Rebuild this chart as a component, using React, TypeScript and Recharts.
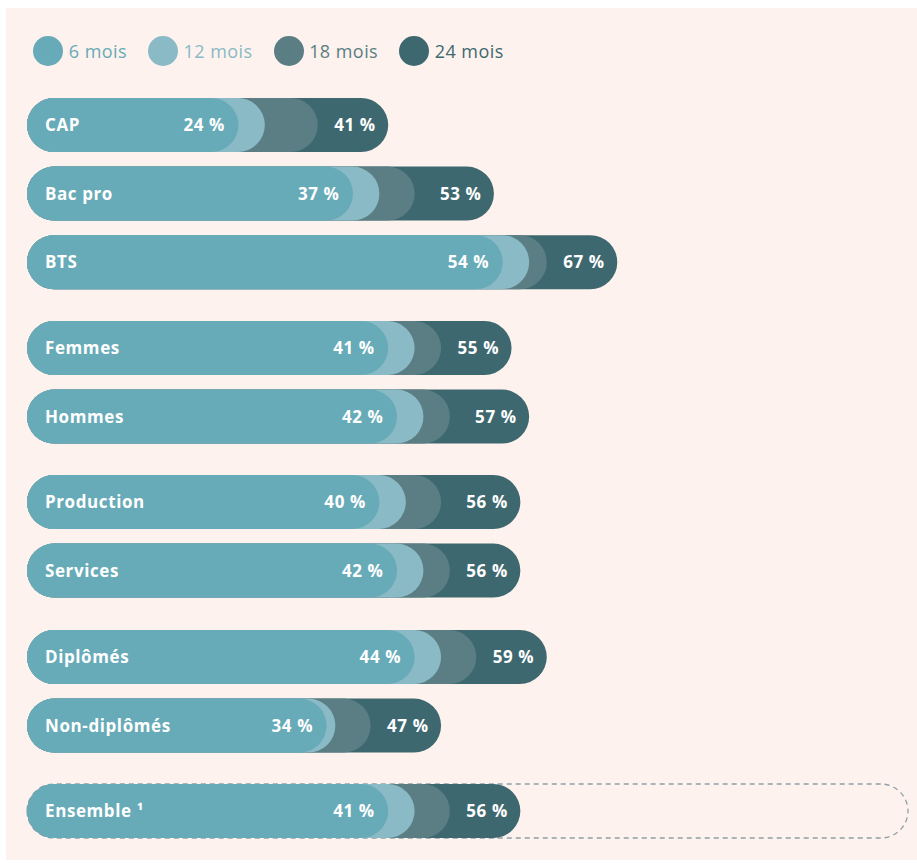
import React from 'react';
import { BarChart, Bar, XAxis, YAxis, LabelList } from 'recharts';

const categories = ['CAP', 'Bac pro', 'BTS', 'Femmes', 'Hommes', 'Production', 'Services', 'Diplômés', 'Non-diplômés', 'Ensemble ¹'];
const groupSizes = [3, 2, 2, 2, 1];
const mois6 = [24, 37, 54, 41, 42, 40, 42, 44, 34, 41];
const mois12 = [27, 40, 57, 44, 45, 43, 45, 47, 35, 44];
const mois18 = [33, 44, 59, 47, 48, 47, 48, 51, 39, 48];
const mois24 = [41, 53, 67, 55, 57, 56, 56, 59, 47, 56];
const ensembleTotal = 100;

const seriesNames = ['6 mois', '12 mois', '18 mois', '24 mois'];
const seriesKeys = ['m6', 'm12', 'm18', 'm24'];
const seriesColors = ['#67abb8', '#89bac5', '#5a7e84', '#3e6870'];

const FONT = '"Open Sans", sans-serif';
const BG = '#fdf2ed';
const BAND = 68.6;

const rows = categories.map((name, i) => ({
  name,
  m6: mois6[i],
  m12: mois12[i],
  m18: mois18[i],
  m24: mois24[i],
  total: i === categories.length - 1 ? ensembleTotal : undefined,
}));

const groups: typeof rows[] = [];
{
  let start = 0;
  for (const n of groupSizes) {
    groups.push(rows.slice(start, start + n));
    start += n;
  }
}

const pct = (v: any) => `${v} %`;

function GroupChart({ data }: { data: typeof rows }) {
  const hasTotal = data.some((d) => d.total !== undefined);
  const labelStyle = { fill: '#ffffff', fontWeight: 700, fontSize: 17, fontFamily: FONT, letterSpacing: '0.6px' };
  return (
    <BarChart
      layout="vertical"
      width={911}
      height={data.length * BAND}
      data={data}
      margin={{ top: 0, right: 9, bottom: 0, left: 21 }}
      barSize={54}
      barGap={-54}
      barCategoryGap={0}
    >
      <XAxis type="number" domain={[0, 100]} hide />
      <YAxis type="category" dataKey="name" hide width={0} />
      {hasTotal && (
        <Bar
          dataKey="total"
          fill="none"
          stroke="#8da0a5"
          strokeWidth={1.3}
          strokeDasharray="5 4"
          radius={27}
          isAnimationActive={false}
        />
      )}
      <Bar dataKey="m24" fill={seriesColors[3]} radius={27} isAnimationActive={false}>
        <LabelList dataKey="m24" position="insideRight" offset={12.5} formatter={pct} style={labelStyle} />
      </Bar>
      <Bar dataKey="m18" fill={seriesColors[2]} radius={27} isAnimationActive={false} />
      <Bar dataKey="m12" fill={seriesColors[1]} radius={27} isAnimationActive={false} />
      <Bar dataKey="m6" fill={seriesColors[0]} radius={27} isAnimationActive={false}>
        <LabelList dataKey="m6" position="insideRight" offset={13.5} formatter={pct} style={labelStyle} />
        <LabelList dataKey="name" position="insideLeft" offset={18} style={labelStyle} />
      </Bar>
    </BarChart>
  );
}

export default function App() {
  return (
    <div
      style={{
        position: 'absolute',
        left: 6,
        top: 8,
        width: 911,
        height: 852,
        background: BG,
        fontFamily: FONT,
      }}
    >
      <div
        style={{
          position: 'absolute',
          left: 27.3,
          top: 27.7,
          display: 'flex',
          alignItems: 'center',
          gap: 21,
        }}
      >
        {seriesNames.map((n, i) => (
          <div key={seriesKeys[i]} style={{ display: 'flex', alignItems: 'center', gap: 5.5 }}>
            <div style={{ width: 30, height: 30, borderRadius: 15, background: seriesColors[i] }} />
            <span style={{ color: seriesColors[i], fontSize: 18, lineHeight: '30px', letterSpacing: '0.45px' }}>{n}</span>
          </div>
        ))}
      </div>
      <div
        style={{
          position: 'absolute',
          left: 0,
          top: 82.7,
          display: 'flex',
          flexDirection: 'column',
          gap: 17.3,
        }}
      >
        {groups.map((g, i) => (
          <GroupChart key={i} data={g} />
        ))}
      </div>
    </div>
  );
}
